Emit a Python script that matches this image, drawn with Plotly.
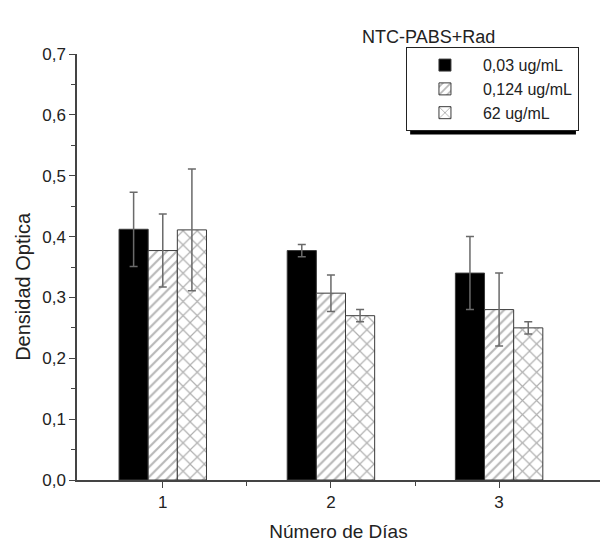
import plotly.graph_objects as go

days = [1, 2, 3]
series_names = ["0,03 ug/mL", "0,124 ug/mL", "62 ug/mL"]
values_003 = [0.412, 0.377, 0.340]
values_0124 = [0.377, 0.307, 0.280]
values_62 = [0.411, 0.270, 0.250]
err_003 = [0.061, 0.010, 0.060]
err_0124 = [0.060, 0.030, 0.060]
err_62 = [0.100, 0.010, 0.010]
y_ticks = [0.0, 0.1, 0.2, 0.3, 0.4, 0.5, 0.6, 0.7]

font_family = "Liberation Sans, Arial, sans-serif"
edge = "#3a3a3a"
err_col = "#6a6a6a"

fig = go.Figure()
styles = [
    None,
    dict(shape="/", fgcolor="#707070", bgcolor="white", size=7, solidity=0.3),
    dict(shape="x", fgcolor="#606060", bgcolor="white", size=10, solidity=0.22),
]
colors = ["black", "white", "white"]
for name, vals, errs, pat, col in zip(series_names, [values_003, values_0124, values_62],
                                      [err_003, err_0124, err_62], styles, colors):
    marker = dict(color=col, line=dict(color=edge, width=1))
    if pat:
        marker["pattern"] = pat
    fig.add_trace(go.Bar(
        x=days, y=vals, name=name, marker=marker,
        error_y=dict(type="data", array=errs, visible=True, color=err_col, thickness=1.5, width=4),
    ))

fig.update_layout(
    width=603, height=542,
    margin=dict(l=77, r=3, t=54, b=60),
    paper_bgcolor="white", plot_bgcolor="white",
    barmode="group", bargap=0.48, bargroupgap=0,
    separators=",.",
    font=dict(family=font_family, size=17, color="#222"),
    xaxis=dict(
        range=[0.49, 3.6], tickmode="array", tickvals=days, ticktext=[str(d) for d in days],
        showline=True, linecolor="#444", linewidth=1.5, ticks="outside", ticklen=6, tickcolor="#444",
        showgrid=False, zeroline=False,
        minor=dict(tickmode="array", tickvals=[1.5, 2.5], ticks="outside", ticklen=4, tickcolor="#444"),
        title=dict(text="Número de Días", font=dict(size=19), standoff=14),
        tickfont=dict(size=17),
    ),
    yaxis=dict(
        range=[0, 0.7], tickmode="array", tickvals=y_ticks, tickformat=".1f",
        showline=True, linecolor="#444", linewidth=1.5, ticks="outside", ticklen=6, tickcolor="#444",
        showgrid=False, zeroline=False,
        minor=dict(dtick=0.05, ticks="outside", ticklen=4, tickcolor="#444"),
        tickfont=dict(size=17),
    ),
    legend=dict(
        x=0.629, y=1.016, xanchor="left", yanchor="top",
        bgcolor="white", bordercolor="#222", borderwidth=1,
        font=dict(size=16, color="#222"), tracegroupgap=0, itemwidth=66,
    ),
    showlegend=True,
)
fig.add_annotation(text="Densidad Optica", xref="paper", yref="paper", x=-0.102, y=0.455,
                   textangle=-90, showarrow=False, xanchor="center", yanchor="middle",
                   font=dict(size=20, color="#222"))
fig.add_annotation(text="NTC-PABS+Rad", xref="paper", yref="paper", x=0.804, y=1.068,
                   showarrow=False, font=dict(size=18, color="#222"))
fig.add_shape(type="rect", xref="paper", yref="paper", x0=0.637, x1=0.954, y0=0.811, y1=1.005,
              fillcolor="black", line=dict(width=0), layer="above")
fig.write_html("out.html")
